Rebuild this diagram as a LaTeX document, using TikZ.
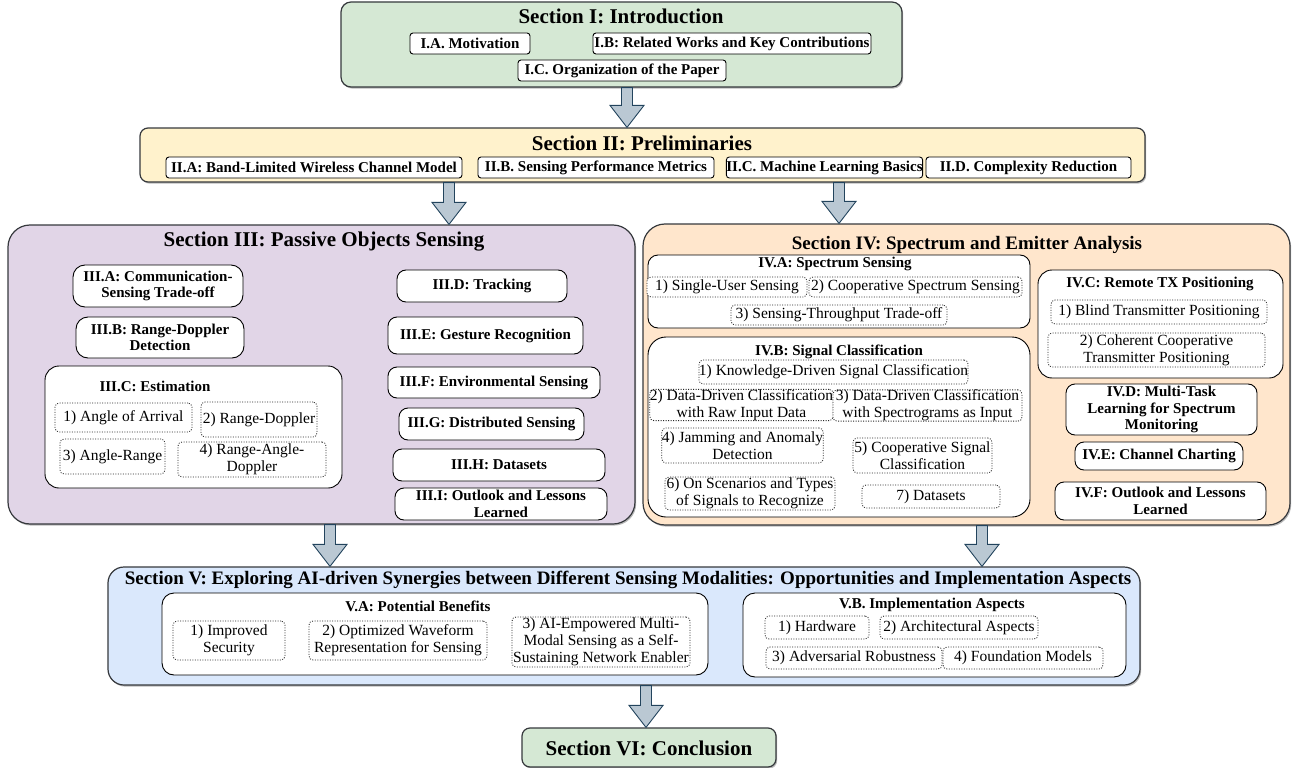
\documentclass[tikz,border=0pt]{standalone}
\usepackage{fontspec}
\setmainfont{Liberation Serif}
\usetikzlibrary{shadows,calc}

\definecolor{grnfill}{HTML}{D5E8D4}
\definecolor{yelfill}{HTML}{FFF2CC}
\definecolor{purfill}{HTML}{E1D5E7}
\definecolor{orgfill}{HTML}{FFE6CC}
\definecolor{blufill}{HTML}{DAE8FC}
\definecolor{arrfill}{HTML}{BAC8D3}
\definecolor{arrline}{HTML}{23445D}
\definecolor{edge}{HTML}{36393D}

\tikzset{
  section/.style={draw=edge, line width=1.2pt,
    drop shadow={shadow xshift=1.2pt, shadow yshift=-1.6pt, fill=black!50, opacity=0.55}},
  sectitle/.style={font=\fontsize{21}{24}\selectfont\bfseries, inner sep=0pt},
  smalltitle/.style={sectitle, font=\fontsize{19}{22}\selectfont\bfseries},
  subbox/.style={draw=black, fill=white, line width=0.9pt, rounded corners=9pt,
    font=\fontsize{15}{16.5}\selectfont\bfseries, align=center, inner sep=0pt},
  flatbox/.style={subbox, rounded corners=3pt},
  container/.style={draw=black, fill=white, line width=0.9pt, rounded corners=14pt},
  subtitle/.style={font=\fontsize{15}{16.5}\selectfont\bfseries, inner sep=0pt},
  item/.style={draw=black!85, dash pattern=on 1pt off 1.5pt, line width=0.8pt,
    rounded corners=4pt, fill=white, font=\fontsize{15.5}{17}\selectfont,
    align=center, inner sep=0pt},
  blockarrow/.style={draw=arrline, fill=arrfill, line width=0.9pt, line join=miter},
}

% box from its corners: name, style, x1, y1, x2, y2, text
\newcommand\mkbox[7]{\node[#2, minimum width={#5-#3}, minimum height={#6-#4}]
  (#1) at ({(#3+#5)/2},{(#4+#6)/2}) {#7};}

% wide block arrow at column x from the bottom of one node to the top of another
\newcommand\blockarr[3]{\draw[blockarrow] let \p1=(#2.south), \p2=(#3.north) in
  ({#1pt-5.5pt},\y1) -- ({#1pt+5.5pt},\y1) -- ({#1pt+5.5pt},{\y2+22pt})
  -- ({#1pt+17pt},{\y2+22pt}) -- ({#1pt},\y2) -- ({#1pt-17pt},{\y2+22pt})
  -- ({#1pt-5.5pt},{\y2+22pt}) -- cycle;}

\begin{document}
\begin{tikzpicture}[x=1pt,y=-1pt]
\useasboundingbox (0,0) rectangle (1294,768);

% ---------- Section I ----------
\mkbox{secI}{section, fill=grnfill, rounded corners=10pt}{341}{2}{902}{87}{}
\node[sectitle] (secIt) at (621,16) {Section I: Introduction};
\mkbox{IA}{flatbox}{410}{33}{530}{54}{I.A. Motivation}
\mkbox{IB}{flatbox}{593}{33}{871}{54}{I.B: Related Works and Key Contributions}
\mkbox{IC}{flatbox}{518}{60}{726}{81}{I.C. Organization of the Paper}

% ---------- Section II ----------
\mkbox{secII}{section, fill=yelfill, rounded corners=8pt}{140}{128}{1145}{182}{}
\node[sectitle] (secIIt) at (642,143) {Section II: Preliminaries};
\mkbox{IIA}{flatbox}{166}{157}{462}{178}{II.A: Band-Limited Wireless Channel Model}
\mkbox{IIB}{flatbox}{478}{157}{714}{178}{II.B. Sensing Performance Metrics}
\mkbox{IIC}{flatbox}{730}{157}{919}{178}{II.C. Machine Learning Basics}
\mkbox{IID}{flatbox}{926}{157}{1131}{178}{II.D. Complexity Reduction}

% ---------- Section III ----------
\mkbox{secIII}{section, fill=purfill, rounded corners=22pt}{8}{225}{635}{524}{}
\node[sectitle] (secIIIt) at (324,242) {Section III: Passive Objects Sensing};
\mkbox{IIIA}{subbox, rounded corners=12pt}{73}{265}{243}{307}{III.A: Communication-\\Sensing Trade-off}
\mkbox{IIIB}{subbox, rounded corners=12pt}{76}{317}{244}{358}{III.B: Range-Doppler\\Detection}
\mkbox{IIIC}{container}{45}{366}{342}{488}{}
\node[subtitle] (IIICt) at (155,386) {III.C: Estimation};
\mkbox{IIIC1}{item}{55}{403}{192}{432}{1) Angle of Arrival}
\mkbox{IIIC2}{item}{201}{402}{317}{437}{2) Range-Doppler}
\mkbox{IIIC3}{item}{60}{439}{165}{474}{3) Angle-Range}
\mkbox{IIIC4}{item}{178}{442}{326}{477}{4) Range-Angle-\\Doppler}
\mkbox{IIID}{subbox}{397}{270}{567}{302}{III.D: Tracking}
\mkbox{IIIE}{subbox}{388}{317}{583}{354}{III.E: Gesture Recognition}
\mkbox{IIIF}{subbox}{388}{367}{600}{398}{III.F: Environmental Sensing}
\mkbox{IIIG}{subbox}{399}{408}{584}{440}{III.G: Distributed Sensing}
\mkbox{IIIH}{subbox}{393}{449}{605}{481}{III.H: Datasets}
\mkbox{IIII}{subbox}{395}{488}{607}{520}{III.I: Outlook and Lessons\\Learned}

% ---------- Section IV ----------
\mkbox{secIV}{section, fill=orgfill, rounded corners=22pt}{643}{224}{1290}{525}{}
\node[smalltitle] (secIVt) at (967,245) {Section IV: Spectrum and Emitter Analysis};
\mkbox{IVA}{container, rounded corners=10pt}{648}{255}{1030}{328}{}
\node[subtitle] (IVAt) at (835,264) {IV.A: Spectrum Sensing};
\mkbox{IVA1}{item}{647}{277}{807}{297}{1) Single-User Sensing}
\mkbox{IVA2}{item}{809}{277}{1022}{297}{2) Cooperative Spectrum Sensing}
\mkbox{IVA3}{item}{731}{305}{947}{325}{3) Sensing-Throughput Trade-off}
\mkbox{IVB}{container, rounded corners=18pt}{648}{337}{1030}{517}{}
\node[subtitle] (IVBt) at (839,352) {IV.B: Signal Classification};
\mkbox{IVB1}{item}{702}{360}{965}{384}{1) Knowledge-Driven Signal Classification}
\mkbox{IVB2}{item}{655}{390}{828}{420}{2) Data-Driven Classification\\with Raw Input Data}
\mkbox{IVB3}{item}{833}{392}{1022}{419}{3) Data-Driven Classification\\with Spectrograms as Input}
\mkbox{IVB4}{item}{662}{428}{823}{463}{4) Jamming and Anomaly\\Detection}
\mkbox{IVB5}{item}{853}{438}{992}{473}{5) Cooperative Signal\\Classification}
\mkbox{IVB6}{item}{665}{477}{835}{510}{6) On Scenarios and Types\\of Signals to Recognize}
\mkbox{IVB7}{item}{862}{485}{1000}{508}{7) Datasets}
\mkbox{IVC}{container}{1038}{270}{1283}{378}{}
\node[subtitle] (IVCt) at (1160,284) {IV.C: Remote TX Positioning};
\mkbox{IVC1}{item}{1051}{300}{1267}{324}{1) Blind Transmitter Positioning}
\mkbox{IVC2}{item}{1048}{333}{1265}{367}{2) Coherent Cooperative\\Transmitter Positioning}
\mkbox{IVD}{subbox}{1066}{384}{1257}{435}{IV.D: Multi-Task\\Learning for Spectrum\\Monitoring}
\mkbox{IVE}{subbox}{1075}{442}{1243}{470}{IV.E: Channel Charting}
\mkbox{IVF}{subbox}{1055}{482}{1266}{520}{IV.F: Outlook and Lessons\\Learned}

% ---------- Section V ----------
\mkbox{secV}{section, fill=blufill, rounded corners=16pt}{108}{567}{1140}{685}{}
\node[smalltitle] (secVt) at (628,580) {Section V: Exploring AI-driven Synergies between Different Sensing Modalities: Opportunities and Implementation Aspects};
\mkbox{VA}{container, rounded corners=12pt}{162}{593}{708}{675}{}
\node[subtitle] (VAt) at (418,606) {V.A: Potential Benefits};
\mkbox{VA1}{item}{173}{621}{285}{660}{1) Improved\\Security}
\mkbox{VA2}{item}{309}{621}{487}{660}{2) Optimized Waveform\\Representation for Sensing}
\mkbox{VA3}{item}{512}{617}{690}{667}{3) AI-Empowered Multi-\\Modal Sensing as a Self-\\Sustaining Network Enabler}
\mkbox{VB}{container, rounded corners=12pt}{743}{593}{1126}{677}{}
\node[subtitle] (VBt) at (932,605) {V.B. Implementation Aspects};
\mkbox{VB1}{item}{765}{616}{869}{639}{1) Hardware}
\mkbox{VB2}{item}{880}{616}{1038}{639}{2) Architectural Aspects}
\mkbox{VB3}{item}{766}{647}{942}{669}{3) Adversarial Robustness}
\mkbox{VB4}{item}{943}{647}{1103}{669}{4) Foundation Models}

% ---------- Section VI ----------
\mkbox{secVI}{section, fill=grnfill, rounded corners=8pt}{522}{728}{776}{767}{}
\node[sectitle] (secVIt) at (649,748) {Section VI: Conclusion};

% ---------- flow arrows ----------
\blockarr{627}{secI}{secII}
\blockarr{449}{secII}{secIII}
\blockarr{839}{secII}{secIV}
\blockarr{330}{secIII}{secV}
\blockarr{982}{secIV}{secV}
\blockarr{646}{secV}{secVI}
\end{tikzpicture}
\end{document}
